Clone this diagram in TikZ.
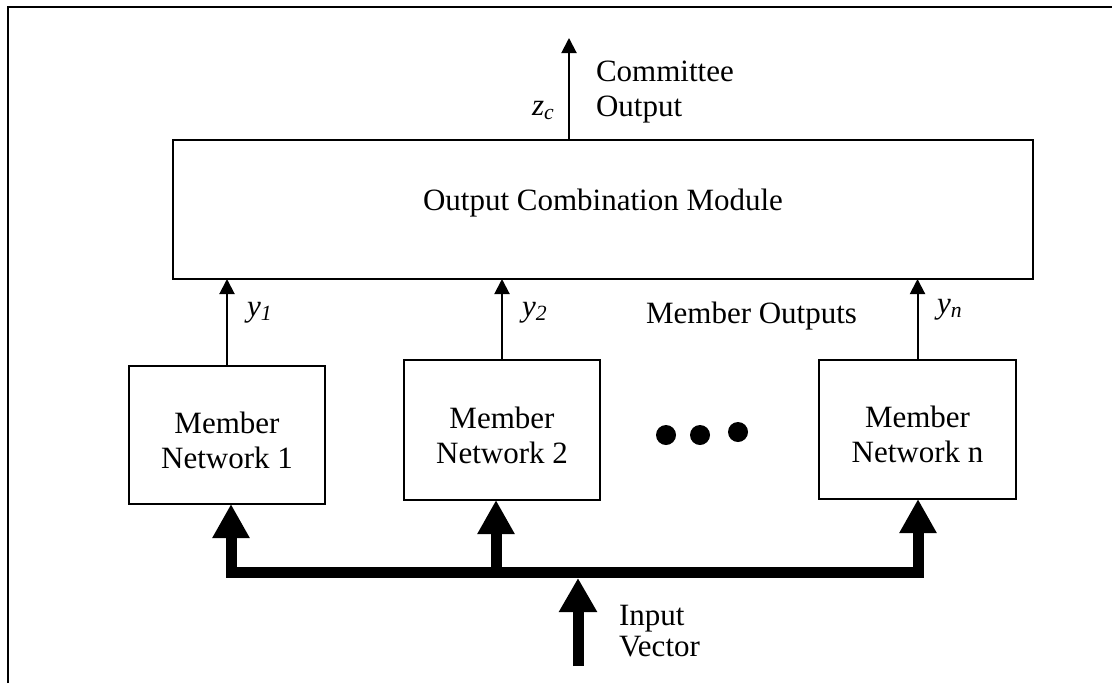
\documentclass[tikz,border=0pt]{standalone}
\usepackage{fontspec}
\setmainfont{Liberation Serif}
\usetikzlibrary{arrows.meta}
\tikzset{
  txt/.style={font=\fontsize{23.25pt}{26.25pt}\selectfont, inner sep=0pt, outer sep=0pt},
  box/.style={draw, line width=1.5pt, inner sep=0pt, outer sep=0pt},
  thinarrow/.style={line width=1.5pt, -{Triangle[length=11.25pt,width=11.25pt]}},
  bus/.style={line width=8.25pt, line join=miter},
  bigtip/.style={-{Triangle[length=25.5pt,width=26.25pt]}},
  frameline/.style={line width=1.5pt, line join=miter}
}
\begin{document}
\begin{tikzpicture}[x=0.75pt,y=-0.75pt]
\useasboundingbox (0,0) rectangle (1112,683);
% outer frame
\coordinate (fbl) at (8,683);
\coordinate (ftl) at (8,7);
\coordinate (ftr) at (1112,7);
\draw[frameline] (fbl) -- (ftl) -- (ftr);

% boxes
\node[box, minimum width=645pt, minimum height=104.25pt] (ocm) at (603,209.5) {};
\node[txt, anchor=base] (ocmt) at (603,210) {Output Combination Module};

\node[box, minimum width=147pt, minimum height=103.5pt] (m1) at (227,435) {};
\node[box, minimum width=147pt, minimum height=105pt] (m2) at (502,430) {};
\node[box, minimum width=147.75pt, minimum height=104.25pt] (mn) at (917.5,429.5) {};
\node[txt, align=center] (m1t) at (227,440) {Member\\Network 1};
\node[txt, align=center] (m2t) at (502,435) {Member\\Network 2};
\node[txt, align=center] (mnt) at (917.5,434.5) {Member\\Network n};

% dots
\fill (666,435) circle[radius=10];
\fill (700,435) circle[radius=10];
\fill (738,432) circle[radius=10];

% committee output
\coordinate (zc) at (569,38);
\draw[thinarrow] (ocm.north -| zc) -- (zc);
\node[txt, anchor=base west] (zcl) at (532,115) {\textit{z}\textsubscript{\textit{c}}};
\node[txt, anchor=west, align=left] (col) at (596,92.3) {Committee\\Output};

% member outputs
\draw[thinarrow] (m1.north) -- (m1.north |- ocm.south);
\draw[thinarrow] (m2.north) -- (m2.north |- ocm.south);
\draw[thinarrow] (mn.north) -- (mn.north |- ocm.south);
\node[txt, anchor=base west] (y1l) at (247,316) {\textit{y}\textsubscript{\textit{1}}};
\node[txt, anchor=base west] (y2l) at (522,316) {\textit{y}\textsubscript{\textit{2}}};
\node[txt, anchor=base west] (ynl) at (937,313) {\textit{y}\textsubscript{\textit{n}}};
\node[txt, anchor=base east] (mol) at (857,323.5) {Member Outputs};

% input bus
\coordinate (b1) at (231,572.5);
\coordinate (b2) at (496,572.5);
\coordinate (bn) at (918,572.5);
\draw[bus, {Triangle[length=25.5pt,width=26.25pt]}-{Triangle[length=25.5pt,width=26.25pt]}]
  (b1 |- m1.south) -- (b1) -- (bn) -- (bn |- mn.south);
\draw[bus, bigtip] (b2) -- (b2 |- m2.south);
\coordinate (inp) at (578,666);
\coordinate (busbot) at (578,578);
\draw[bus, -{Triangle[length=25.5pt,width=27pt]}] (inp) -- (busbot);
\node[txt, anchor=west, align=left] (ivl) at (619,631) {Input\\[-3pt]Vector};
\end{tikzpicture}
\end{document}
